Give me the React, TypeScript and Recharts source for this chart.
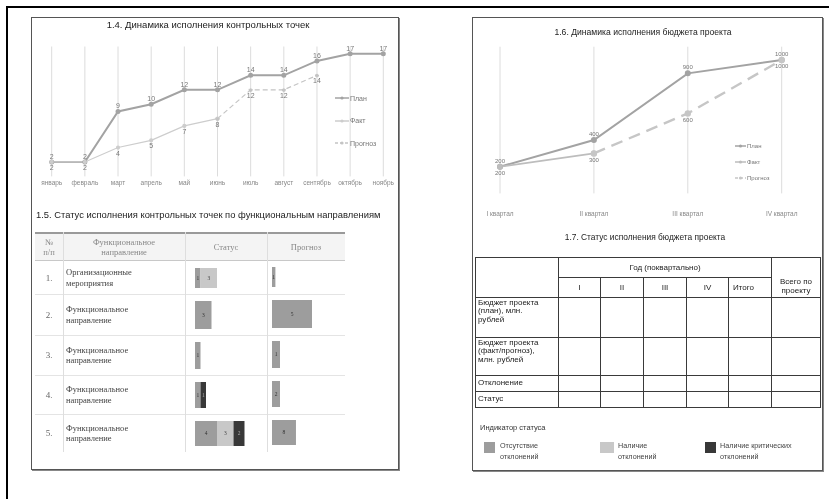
import React from 'react';
import {
  LineChart,
  Line,
  XAxis,
  YAxis,
  CartesianGrid,
  Legend,
  LabelList,
  BarChart,
  Bar,
} from 'recharts';

// 1.4 milestones by month
const months = ['январь', 'февраль', 'март', 'апрель', 'май', 'июнь', 'июль', 'август', 'сентябрь', 'октябрь', 'ноябрь'];
const planPoints = [2, 2, 9, 10, 12, 12, 14, 14, 16, 17, 17];
const factPoints = [2, 2, 4, 5, 7, 8, null, null, null, null, null];
const forecastPoints = [null, null, null, null, null, 8, 12, 12, 14, null, null];
const seriesNames = ['План', 'Факт', 'Прогноз'];

// 1.5 status by functional direction
const directionNames = [
  ['Организационные', 'мероприятия'],
  ['Функциональное', 'направление'],
  ['Функциональное', 'направление'],
  ['Функциональное', 'направление'],
  ['Функциональное', 'направление'],
];
const statusNoDeviation = [1, 3, 1, 1, 4];
const statusDeviation = [3, null, null, null, 3];
const statusCritical = [null, null, null, 1, 2];
const forecastCount = [1, 5, 1, 2, 8];
const forecastAxisMax = [20, 8.5, 8.5, 17, 22.7];

// 1.6 budget by quarter
const quarters = ['I квартал', 'II квартал', 'III квартал', 'IV квартал'];
const budgetPlan = [200, 400, 900, 1000];
const budgetFact = [200, 300, null, null];
const budgetForecast = [null, 300, 600, 1000];

// 1.7 budget table
const quarterHeads = ['I', 'II', 'III', 'IV', 'Итого'];
const budgetRowLabels = [
  ['Бюджет проекта', '(план), млн.', 'рублей'],
  ['Бюджет проекта', '(факт/прогноз),', 'млн. рублей'],
  ['Отклонение'],
  ['Статус'],
];
const statusLegend = [
  ['Отсутствие', 'отклонений'],
  ['Наличие', 'отклонений'],
  ['Наличие критических', 'отклонений'],
];

const sans = '"Liberation Sans", Arial, sans-serif';
const serif = '"Liberation Serif", "Times New Roman", serif';

const C_OK = '#9d9d9d';
const C_WARN = '#c8c8c8';
const C_CRIT = '#383838';

const milestoneData = months.map((m, i) => ({
  month: m,
  plan: planPoints[i],
  fact: factPoints[i],
  forecast: forecastPoints[i],
  forecastLabel: factPoints[i] == null ? forecastPoints[i] : null,
}));

const budgetData = quarters.map((q, i) => ({
  quarter: q,
  plan: budgetPlan[i],
  fact: budgetFact[i],
  forecast: budgetForecast[i],
  forecastLabel: budgetFact[i] == null ? budgetForecast[i] : null,
}));

const legendContent = (rowHeight: number, lineW: number, fontSize: number) => (props: any) => {
  const items = [...(props.payload || [])].sort(
    (a: any, b: any) => seriesNames.indexOf(a.value) - seriesNames.indexOf(b.value)
  );
  return (
    <div style={{ fontFamily: sans, fontSize, color: '#777' }}>
      {items.map((entry: any) => (
        <div key={entry.value} style={{ display: 'flex', alignItems: 'center', height: rowHeight }}>
          <svg width={lineW} height={6} style={{ marginRight: 1 }}>
            <line
              x1={0}
              y1={3}
              x2={lineW}
              y2={3}
              stroke={entry.color}
              strokeWidth={1.5}
              strokeDasharray={entry.payload?.strokeDasharray ? '3 2' : undefined}
            />
            <circle cx={lineW / 2} cy={3} r={1.6} fill={entry.color} />
          </svg>
          <span>{entry.value}</span>
        </div>
      ))}
    </div>
  );
};

const Title = ({ text, cx, cy, size, left }: any) => (
  <div
    style={{
      position: 'absolute',
      left: left != null ? left : cx - 250,
      width: 500,
      top: cy - size * 0.6,
      lineHeight: `${size * 1.2}px`,
      fontSize: size,
      fontFamily: sans,
      color: '#222',
      textAlign: left != null ? 'left' : 'center',
      whiteSpace: 'nowrap',
    }}
  >
    {text}
  </div>
);

const barLabel = (fill: string) => ({ fontSize: 5.5, fill, fontFamily: serif });

function StatusCell({ row, height }: { row: number; height: number }) {
  const data = [{ name: 'r', ok: statusNoDeviation[row], warn: statusDeviation[row], crit: statusCritical[row] }];
  return (
    <BarChart
      width={82}
      height={height}
      data={data}
      layout="vertical"
      margin={{ top: 7, right: 6, bottom: 6, left: 10 }}
      barCategoryGap={0}
    >
      <XAxis type="number" hide domain={[0, 12]} />
      <YAxis type="category" dataKey="name" hide />
      <Bar dataKey="ok" stackId="s" fill={C_OK} isAnimationActive={false}>
        <LabelList dataKey="ok" position="center" style={barLabel('#333')} />
      </Bar>
      <Bar dataKey="warn" stackId="s" fill={C_WARN} isAnimationActive={false}>
        <LabelList dataKey="warn" position="center" style={barLabel('#444')} />
      </Bar>
      <Bar dataKey="crit" stackId="s" fill={C_CRIT} isAnimationActive={false}>
        <LabelList dataKey="crit" position="center" style={barLabel('#aaa')} />
      </Bar>
    </BarChart>
  );
}

function ForecastCell({ row, height }: { row: number; height: number }) {
  const data = [{ name: 'r', value: forecastCount[row] }];
  return (
    <BarChart
      width={78}
      height={height}
      data={data}
      layout="vertical"
      margin={{ top: 6, right: 5, bottom: 7, left: 5 }}
      barCategoryGap={0}
    >
      <XAxis type="number" hide domain={[0, forecastAxisMax[row]]} />
      <YAxis type="category" dataKey="name" hide />
      <Bar dataKey="value" fill={C_OK} isAnimationActive={false}>
        <LabelList dataKey="value" position="center" style={barLabel('#333')} />
      </Bar>
    </BarChart>
  );
}

export default function App() {
  // table 1.5 geometry
  const colX = [0, 28, 150, 232, 310];
  const headH = 29;
  const rowH = [33, 41, 40, 39, 38];
  const rowTops: number[] = [];
  rowH.reduce((acc, h) => {
    rowTops.push(acc);
    return acc + h;
  }, headH);
  const tHeight = headH + rowH.reduce((a, b) => a + b, 0);

  const cell17: React.CSSProperties = {
    border: '1px solid #3a3a3a',
    padding: '0 2px',
    overflow: 'hidden',
  };
  const budgetCols = [83, 42, 43, 43, 42, 43, 49];
  const budgetRowH = [40, 38, 16, 16];

  return (
    <div
      style={{
        position: 'absolute',
        left: 0,
        top: 0,
        width: 829,
        height: 499,
        overflow: 'hidden',
        background: '#fff',
        fontFamily: sans,
        filter: 'grayscale(1)',
      }}
    >
      {/* outer page frame */}
      <div style={{ position: 'absolute', left: 6, top: 6, width: 900, height: 600, borderTop: '2.5px solid #000', borderLeft: '2.5px solid #000' }} />

      {/* left panel */}
      <div style={{ position: 'absolute', left: 31, top: 17, width: 366, height: 451, border: '1px solid #555', boxShadow: '1px 1px 0 #888' }} />
      {/* right panel */}
      <div style={{ position: 'absolute', left: 472, top: 17, width: 349, height: 452, border: '1px solid #555', boxShadow: '1px 1px 0 #888' }} />

      <Title text="1.4. Динамика исполнения контрольных точек" cx={208} cy={25} size={9.5} />

      <div style={{ position: 'absolute', left: 31, top: 17 }}>
        <LineChart
          width={367}
          height={195}
          data={milestoneData}
          margin={{ top: 29.5, right: 14.7, left: 20.7, bottom: 11.6 }}
        >
          <CartesianGrid horizontal={false} stroke="#dcdcdc" />
          <XAxis
            dataKey="month"
            scale="point"
            padding={{ left: 0, right: 0 }}
            axisLine={false}
            tickLine={false}
            tickSize={2}
            height={24}
            interval={0}
            tick={{ fontSize: 6.5, fill: '#888', fontFamily: sans }}
          />
          <YAxis hide domain={[0, 18]} />
          <Legend
            layout="vertical"
            align="center"
            verticalAlign="middle"
            content={legendContent(22.5, 14, 7)}
            wrapperStyle={{ left: 304, top: 70, width: 60 }}
          />
          <Line
            name="План"
            dataKey="plan"
            stroke="#a3a3a3"
            strokeWidth={2}
            dot={{ r: 1.5, fill: '#a3a3a3', stroke: '#a3a3a3' }}
            isAnimationActive={false}
          >
            <LabelList dataKey="plan" position="top" offset={3} style={{ fontSize: 7, fill: '#777', fontFamily: sans }} />
          </Line>
          <Line
            name="Факт"
            dataKey="fact"
            stroke="#cdcdcd"
            strokeWidth={1.2}
            dot={{ r: 1.5, fill: '#cdcdcd', stroke: '#cdcdcd' }}
            isAnimationActive={false}
          >
            <LabelList dataKey="fact" position="bottom" offset={3} style={{ fontSize: 7, fill: '#777', fontFamily: sans }} />
          </Line>
          <Line
            name="Прогноз"
            dataKey="forecast"
            stroke="#c4c4c4"
            strokeWidth={1.2}
            strokeDasharray="5 3"
            dot={{ r: 1.5, fill: '#c4c4c4', stroke: '#c4c4c4' }}
            isAnimationActive={false}
          >
            <LabelList dataKey="forecastLabel" position="bottom" offset={3} style={{ fontSize: 7, fill: '#777', fontFamily: sans }} />
          </Line>
        </LineChart>
      </div>

      <Title text="1.5. Статус исполнения контрольных точек по функциональным направлениям" left={36} cy={215} size={9.4} />

      {/* table 1.5 */}
      <div style={{ position: 'absolute', left: 35, top: 232, width: 310, height: tHeight }}>
        <div style={{ position: 'absolute', left: 0, top: 0, width: 310, height: headH, background: '#f4f4f4', borderTop: '2px solid #9a9a9a', borderBottom: '1px solid #c8c8c8', boxSizing: 'border-box' }} />
        {rowTops.slice(1).map((y) => (
          <div key={y} style={{ position: 'absolute', left: 0, top: y, width: 310, height: 1, background: '#e4e4e4' }} />
        ))}
        {colX.slice(1, 4).map((x) => (
          <div key={x} style={{ position: 'absolute', left: x, top: 0, width: 1, height: tHeight, background: '#dedede' }} />
        ))}
        {[['№', 'п/п'], ['Функциональное', 'направление'], ['Статус'], ['Прогноз']].map((lines, ci) => (
          <div
            key={ci}
            style={{
              position: 'absolute',
              left: colX[ci],
              width: colX[ci + 1] - colX[ci],
              top: 2,
              height: headH - 2,
              display: 'flex',
              flexDirection: 'column',
              justifyContent: 'center',
              alignItems: 'center',
              fontFamily: serif,
              fontSize: 8.5,
              lineHeight: '9.5px',
              color: '#888',
            }}
          >
            {lines.map((l) => (
              <div key={l}>{l}</div>
            ))}
          </div>
        ))}
        {rowTops.map((y, i) => (
          <React.Fragment key={i}>
            <div
              style={{
                position: 'absolute',
                left: 0,
                width: 28,
                top: y,
                height: rowH[i],
                display: 'flex',
                alignItems: 'center',
                justifyContent: 'center',
                fontFamily: serif,
                fontSize: 9,
                color: '#666',
              }}
            >
              {i + 1}.
            </div>
            <div
              style={{
                position: 'absolute',
                left: 31,
                width: 118,
                top: y,
                height: rowH[i],
                display: 'flex',
                flexDirection: 'column',
                justifyContent: 'center',
                fontFamily: serif,
                fontSize: 8.5,
                lineHeight: '10.5px',
                color: '#444',
              }}
            >
              {directionNames[i].map((l) => (
                <div key={l}>{l}</div>
              ))}
            </div>
            <div style={{ position: 'absolute', left: colX[2], top: y }}>
              <StatusCell row={i} height={rowH[i]} />
            </div>
            <div style={{ position: 'absolute', left: colX[3], top: y }}>
              <ForecastCell row={i} height={rowH[i]} />
            </div>
          </React.Fragment>
        ))}
      </div>

      <Title text="1.6. Динамика исполнения бюджета проекта" cx={643} cy={32} size={8.6} />

      <div style={{ position: 'absolute', left: 472, top: 17 }}>
        <LineChart
          width={348}
          height={213}
          data={budgetData}
          margin={{ top: 29.7, right: 38.3, left: 28, bottom: 6.6 }}
        >
          <CartesianGrid horizontal={false} stroke="#dcdcdc" />
          <XAxis
            dataKey="quarter"
            scale="point"
            padding={{ left: 0, right: 0 }}
            axisLine={false}
            tickLine={false}
            tickSize={15}
            tickMargin={3}
            height={30}
            interval={0}
            tick={{ fontSize: 6.5, fill: '#888', fontFamily: sans }}
          />
          <YAxis hide domain={[0, 1100]} />
          <Legend
            layout="vertical"
            align="center"
            verticalAlign="middle"
            content={legendContent(16, 11, 6)}
            wrapperStyle={{ left: 263, top: 121, width: 60 }}
          />
          <Line
            name="План"
            dataKey="plan"
            stroke="#a3a3a3"
            strokeWidth={2}
            dot={{ r: 2, fill: '#a3a3a3', stroke: '#a3a3a3' }}
            isAnimationActive={false}
          >
            <LabelList dataKey="plan" position="top" offset={4} style={{ fontSize: 6, fill: '#777', fontFamily: sans }} />
          </Line>
          <Line
            name="Факт"
            dataKey="fact"
            stroke="#bdbdbd"
            strokeWidth={1.8}
            dot={{ r: 2, fill: '#bdbdbd', stroke: '#bdbdbd' }}
            isAnimationActive={false}
          >
            <LabelList dataKey="fact" position="bottom" offset={4} style={{ fontSize: 6, fill: '#777', fontFamily: sans }} />
          </Line>
          <Line
            name="Прогноз"
            dataKey="forecast"
            stroke="#c6c6c6"
            strokeWidth={2.4}
            strokeDasharray="12 7"
            dot={{ r: 2, fill: '#c6c6c6', stroke: '#c6c6c6' }}
            isAnimationActive={false}
          >
            <LabelList dataKey="forecastLabel" position="bottom" offset={4} style={{ fontSize: 6, fill: '#777', fontFamily: sans }} />
          </Line>
        </LineChart>
      </div>

      <Title text="1.7. Статус исполнения бюджета проекта" cx={645} cy={237} size={8.4} />

      <table
        style={{
          position: 'absolute',
          left: 475,
          top: 257,
          width: 345,
          borderCollapse: 'collapse',
          tableLayout: 'fixed',
          fontFamily: sans,
          fontSize: 8,
          color: '#222',
        }}
      >
        <colgroup>
          {budgetCols.map((w, i) => (
            <col key={i} style={{ width: w }} />
          ))}
        </colgroup>
        <tbody>
          <tr style={{ height: 20 }}>
            <td rowSpan={2} style={cell17} />
            <td colSpan={5} style={{ ...cell17, textAlign: 'center' }}>
              Год (поквартально)
            </td>
            <td rowSpan={2} style={{ ...cell17, textAlign: 'center', verticalAlign: 'bottom', lineHeight: '9px', paddingBottom: 2 }}>
              Всего по
              <br />
              проекту
            </td>
          </tr>
          <tr style={{ height: 20 }}>
            {quarterHeads.map((q) => (
              <td key={q} style={{ ...cell17, textAlign: q === 'Итого' ? 'left' : 'center', paddingLeft: q === 'Итого' ? 4 : 2 }}>
                {q}
              </td>
            ))}
          </tr>
          {budgetRowLabels.map((lines, ri) => (
            <tr key={ri} style={{ height: budgetRowH[ri] }}>
              <td style={{ ...cell17, verticalAlign: lines.length > 1 ? 'top' : 'middle', lineHeight: '8.4px', paddingTop: lines.length > 1 ? 1 : 0 }}>
                {lines.map((l, li) => (
                  <div key={li}>{l}</div>
                ))}
              </td>
              {budgetCols.slice(1).map((_, ci) => (
                <td key={ci} style={cell17} />
              ))}
            </tr>
          ))}
        </tbody>
      </table>

      {/* status indicator legend */}
      <div style={{ position: 'absolute', left: 480, top: 423, fontSize: 7.5, color: '#333', fontFamily: sans }}>Индикатор статуса</div>
      {[C_OK, C_WARN, C_CRIT].map((c, i) => {
        const bx = [484, 600, 705][i];
        const bw = [11, 14, 11][i];
        return (
          <React.Fragment key={i}>
            <div style={{ position: 'absolute', left: bx, top: 442, width: bw, height: 11, background: c }} />
            <div
              style={{
                position: 'absolute',
                left: [500, 618, 720][i],
                top: 440,
                fontSize: 7.2,
                lineHeight: '11px',
                color: '#444',
                fontFamily: sans,
              }}
            >
              {statusLegend[i].map((l) => (
                <div key={l}>{l}</div>
              ))}
            </div>
          </React.Fragment>
        );
      })}
    </div>
  );
}
